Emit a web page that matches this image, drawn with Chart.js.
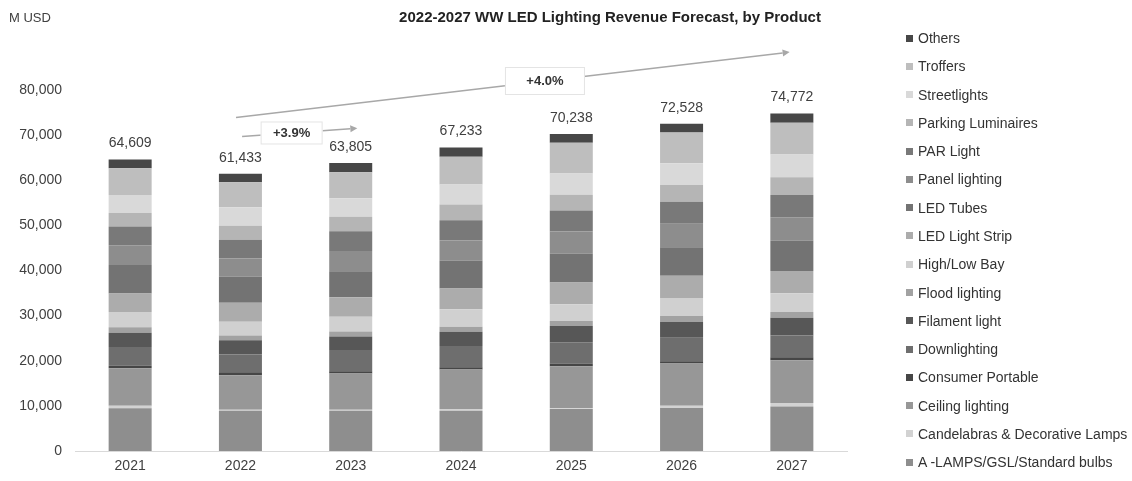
<!DOCTYPE html>
<html>
<head>
<meta charset="utf-8">
<script src="https://cdn.jsdelivr.net/npm/chart.js@4.4.1/dist/chart.umd.min.js"></script>
<style>
html, body { margin: 0; padding: 0; background: #fff; }
#wrap { position: relative; width: 1132px; height: 481px; }
#chart { position: absolute; left: 0; top: 0; }
#legend { position: absolute; left: 906px; top: 24px; margin: 0; padding: 0; list-style: none;
  font: 14px "Liberation Sans", Arial, sans-serif; color: #333; }
#legend li { height: 28.27px; display: flex; align-items: center; white-space: nowrap; }
#legend .box { width: 7px; height: 7px; margin-right: 5px; display: inline-block; }
</style>
</head>
<body>
<div id="wrap">
  <canvas id="chart" width="1132" height="481"></canvas>
  <ul id="legend"></ul>
</div>
<script>
const years = ['2021', '2022', '2023', '2024', '2025', '2026', '2027'];
const totals = [64609, 61433, 63805, 67233, 70238, 72528, 74772];

// segments, bottom of the stack first
const aLamps       = [9490, 8900, 8920, 8910, 9280, 9510, 9870];
const candelabras  = [520, 220, 220, 370, 220, 520, 740];
const ceiling      = [8310, 7640, 8030, 8770, 9280, 9360, 9500];
const consumer     = [590, 670, 520, 520, 590, 520, 670];
const downlighting = [4150, 3930, 4690, 4680, 4750, 5200, 4820];
const filament     = [3120, 3190, 2970, 3190, 3560, 3490, 3930];
const flood        = [1260, 1040, 1120, 1110, 1110, 1340, 1260];
const highLowBay   = [3340, 3040, 3270, 3860, 3710, 3940, 4150];
const lightStrip   = [4150, 4230, 4310, 4610, 4830, 4980, 4970];
const tubes        = [6310, 5790, 5800, 6170, 6460, 6320, 6680];
const panel        = [4380, 4010, 4460, 4460, 4830, 5200, 5190];
const parLight     = [4150, 4160, 4390, 4460, 4680, 4830, 4970];
const parking      = [2970, 3120, 3200, 3490, 3490, 3720, 3930];
const streetlights = [4010, 4080, 4090, 4460, 4680, 4830, 5040];
const troffers     = [5930, 5560, 5800, 6170, 6830, 6840, 7050];
const others       = [1930, 1850, 2010, 2010, 1930, 1930, 2000];

const seriesNames = ['A -LAMPS/GSL/Standard bulbs', 'Candelabras & Decorative Lamps', 'Ceiling lighting',
  'Consumer Portable', 'Downlighting', 'Filament light', 'Flood lighting', 'High/Low Bay',
  'LED Light Strip', 'LED Tubes', 'Panel lighting', 'PAR Light', 'Parking Luminaires',
  'Streetlights', 'Troffers', 'Others'];
const seriesData = [aLamps, candelabras, ceiling, consumer, downlighting, filament, flood, highLowBay,
  lightStrip, tubes, panel, parLight, parking, streetlights, troffers, others];
const seriesColors = ['#8e8e8e', '#d2d2d2', '#979797', '#464646', '#6e6e6e', '#575757', '#a2a2a2', '#d0d0d0',
  '#acacac', '#737373', '#8d8d8d', '#797979', '#b5b5b5', '#d9d9d9', '#bebebe', '#474747'];

const growthLabels = ['+3.9%', '+4.0%'];

const FONT = '"Liberation Sans", Arial, sans-serif';

const drawArrow = (ctx, x1, y1, x2, y2, t, label, bw, bh) => {
    ctx.strokeStyle = '#a8a8a8';
    ctx.fillStyle = '#a8a8a8';
    ctx.lineWidth = 1.5;
    const ang = Math.atan2(y2 - y1, x2 - x1);
    const ex = x2 - 7 * Math.cos(ang), ey = y2 - 7 * Math.sin(ang);
    ctx.beginPath();
    ctx.moveTo(x1, y1);
    ctx.lineTo(ex, ey);
    ctx.stroke();
    ctx.beginPath();
    ctx.moveTo(x2, y2);
    ctx.lineTo(ex + 3.5 * Math.sin(ang), ey - 3.5 * Math.cos(ang));
    ctx.lineTo(ex - 3.5 * Math.sin(ang), ey + 3.5 * Math.cos(ang));
    ctx.closePath();
    ctx.fill();
    // label box on the line
    const cx = x1 + (x2 - x1) * t, cy = y1 + (y2 - y1) * t;
    ctx.fillStyle = '#fff';
    ctx.strokeStyle = '#e4e4e4';
    ctx.lineWidth = 1;
    ctx.fillRect(cx - bw / 2, cy - bh / 2, bw, bh);
    ctx.strokeRect(cx - bw / 2 + 0.5, cy - bh / 2 + 0.5, bw - 1, bh - 1);
    ctx.fillStyle = '#333';
    ctx.font = 'bold 13px ' + FONT;
    ctx.textAlign = 'center';
    ctx.textBaseline = 'middle';
    ctx.fillText(label, cx, cy);
};

const overlay = {
    id: 'overlay',
    afterDatasetsDraw(chart) {
        const { ctx, scales: { x, y } } = chart;
        ctx.save();
        // total on top of each bar
        ctx.font = '14px ' + FONT;
        ctx.fillStyle = '#404040';
        ctx.textAlign = 'center';
        ctx.textBaseline = 'middle';
        totals.forEach((t, i) => {
            ctx.fillText(t.toLocaleString('en-US'), x.getPixelForValue(i), y.getPixelForValue(t) - 16);
        });
        // growth arrows
        drawArrow(ctx, x.getPixelForValue(1.015), y.getPixelForValue(69700),
            x.getPixelForValue(2.06), y.getPixelForValue(71500), 0.43, growthLabels[0], 62, 23);
        drawArrow(ctx, x.getPixelForValue(0.96), y.getPixelForValue(73900),
            x.getPixelForValue(5.98), y.getPixelForValue(88400), 0.558, growthLabels[1], 80, 28);
        // title and unit
        ctx.fillStyle = '#222';
        ctx.font = 'bold 15px ' + FONT;
        ctx.textAlign = 'center';
        ctx.fillText('2022-2027 WW LED Lighting Revenue Forecast, by Product', 610, 18);
        ctx.fillStyle = '#404040';
        ctx.font = '13px ' + FONT;
        ctx.textAlign = 'left';
        ctx.fillText('M USD', 9, 18);
        ctx.restore();
    }
};

const chart = new Chart(document.getElementById('chart'), {
    type: 'bar',
    data: {
        labels: years,
        datasets: seriesNames.map((name, i) => ({
            label: name,
            data: seriesData[i],
            backgroundColor: seriesColors[i],
            borderWidth: 0,
            barPercentage: 0.39,
            categoryPercentage: 1
        }))
    },
    options: {
        responsive: false,
        animation: false,
        layout: { padding: { top: 90, right: 285, left: 0, bottom: 0 } },
        plugins: {
            legend: { display: false },
            tooltip: { enabled: false }
        },
        scales: {
            x: {
                stacked: true,
                grid: { display: false, drawTicks: false },
                border: { display: true, color: '#d9d9d9', width: 1 },
                ticks: { color: '#404040', font: { size: 14, family: FONT }, padding: 7 },
                afterFit(scale) { scale.height = 30; }
            },
            y: {
                stacked: true,
                min: 0,
                max: 80000,
                grid: { display: false, drawTicks: false },
                border: { display: false },
                ticks: { stepSize: 10000, color: '#404040', font: { size: 14, family: FONT }, padding: 13 },
                afterFit(scale) { scale.width = 75; }
            }
        }
    },
    plugins: [overlay]
});

// legend list built from the chart's own legend items, top of the stack first
const legendEl = document.getElementById('legend');
chart.options.plugins.legend.labels.generateLabels(chart).reverse().forEach(item => {
    const li = document.createElement('li');
    const box = document.createElement('span');
    box.className = 'box';
    box.style.background = item.fillStyle;
    li.appendChild(box);
    li.appendChild(document.createTextNode(item.text));
    legendEl.appendChild(li);
});
</script>
</body>
</html>
